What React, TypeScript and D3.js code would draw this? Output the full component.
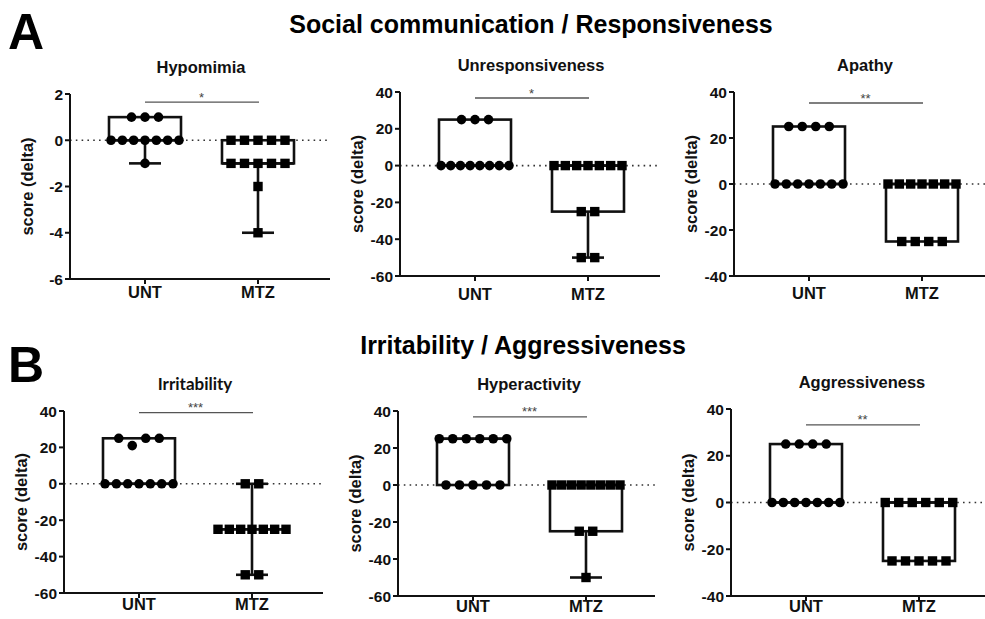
import React from "react";
import * as d3 from "d3";

// ---- data ----
const panelTitles = ["Hypomimia", "Unresponsiveness", "Apathy", "Irritability", "Hyperactivity", "Aggressiveness"];
const groups = ["UNT", "MTZ"];
const untScores = [
  [1, 1, 1, 0, 0, 0, 0, 0, 0, 0, -1],
  [25, 25, 25, 0, 0, 0, 0, 0, 0, 0, 0],
  [25, 25, 25, 25, 0, 0, 0, 0, 0, 0, 0],
  [25, 21, 25, 25, 0, 0, 0, 0, 0, 0, 0],
  [25, 25, 25, 25, 25, 25, 0, 0, 0, 0, 0],
  [25, 25, 25, 25, 0, 0, 0, 0, 0, 0, 0],
];
const mtzScores = [
  [0, 0, 0, 0, 0, -1, -1, -1, -1, -1, -2, -4],
  [0, 0, 0, 0, 0, 0, 0, -25, -25, -50, -50],
  [0, 0, 0, 0, 0, 0, 0, -25, -25, -25, -25],
  [0, 0, -25, -25, -25, -25, -25, -25, -25, -50, -50],
  [0, 0, 0, 0, 0, 0, 0, 0, -25, -25, -50],
  [0, 0, 0, 0, 0, 0, -25, -25, -25, -25, -25],
];
const yDomains = [[-6, 2], [-60, 40], [-40, 40], [-60, 40], [-60, 40], [-40, 40]];
const yTickSteps = [2, 20, 20, 20, 20, 20];
const sigLevels = [1.65, 36.7, 35.2, 39.1, 36.8, 33.2];
const sigStars = ["*", "*", "**", "***", "***", "**"];
const sectionTitles = ["Social communication / Responsiveness", "Irritability / Aggressiveness"];
const sectionLetters = ["A", "B"];

// ---- layout (pixel frames of each panel) ----
const frames = [
  { x0: 70, top: 94, bot: 279, right: 330, lab: 298 },
  { x0: 400, top: 92, bot: 276, right: 660, lab: 300 },
  { x0: 734, top: 92, bot: 276, right: 985, lab: 299 },
  { x0: 64, top: 411, bot: 593, right: 323, lab: 610 },
  { x0: 398, top: 411, bot: 596, right: 655, lab: 612 },
  { x0: 731, top: 409, bot: 596, right: 985, lab: 612 },
];

const FONT = "'Liberation Sans', Arial, sans-serif";
const BOX_W = 72;
const CAP_W = 32;

// GraphPad style quartiles, (n+1)p
const quart = (sorted: number[], p: number) => {
  const n = sorted.length;
  const pos = (n + 1) * p;
  const lo = Math.floor(pos);
  if (lo < 1) return sorted[0];
  if (lo >= n) return sorted[n - 1];
  return sorted[lo - 1] + (pos - lo) * (sorted[lo] - sorted[lo - 1]);
};

// spread points of (nearly) equal value sideways
const swarm = (vals: number[], y: (v: number) => number) => {
  const clusters: { py: number; idx: number[] }[] = [];
  vals.forEach((v, i) => {
    const py = y(v);
    const c = clusters.find((c) => Math.abs(c.py - py) < 8);
    if (c) c.idx.push(i);
    else clusters.push({ py, idx: [i] });
  });
  const dx = new Array(vals.length).fill(0);
  clusters.forEach((c) => {
    const n = c.idx.length;
    if (n < 2) return;
    const step = Math.min(13.5, 68 / (n - 1));
    c.idx.forEach((id, k) => {
      dx[id] = (k - (n - 1) / 2) * step;
    });
  });
  return dx;
};

const Panel = ({ i }: { i: number }) => {
  const f = frames[i];
  const [lo, hi] = yDomains[i];
  const y = d3.scaleLinear().domain([lo, hi]).range([f.bot, f.top]);
  const x = d3.scalePoint().domain(groups).range([f.x0 + 75, f.x0 + 188]);
  const ticks = d3.range(lo, hi + 0.001, yTickSteps[i]);
  const series = [untScores[i], mtzScores[i]];

  return (
    <g>
      <text x={f.x0 + 131} y={f.top - 21} textAnchor="middle" fontFamily={i === 3 ? "Lato, sans-serif" : FONT}
        fontWeight="bold" fontSize={i === 3 ? 17 : 16.5} fill="#111">
        {panelTitles[i]}
      </text>

      {/* zero reference */}
      <line x1={f.x0} x2={f.right} y1={y(0)} y2={y(0)} stroke="#333" strokeWidth={1.6} strokeDasharray="1.6 4.2" />

      {/* y axis */}
      <line x1={f.x0} x2={f.x0} y1={f.top} y2={f.bot} stroke="#111" strokeWidth={2} />
      {ticks.map((t) => (
        <g key={t}>
          <line x1={f.x0 - 5} x2={f.x0} y1={y(t)} y2={y(t)} stroke="#111" strokeWidth={2} />
          <text x={f.x0 - 7} y={y(t)} dy="0.36em" textAnchor="end" fontFamily={FONT} fontWeight="bold" fontSize={15.5} fill="#111">
            {t}
          </text>
        </g>
      ))}
      <text transform={`translate(${f.x0 - 37},${(f.top + f.bot) / 2}) rotate(-90)`} textAnchor="middle"
        fontFamily={FONT} fontWeight="bold" fontSize={16.5} fill="#111">
        score (delta)
      </text>

      {/* x axis */}
      <line x1={f.x0 - 1} x2={f.right} y1={f.bot} y2={f.bot} stroke="#111" strokeWidth={2} />
      {groups.map((g) => (
        <g key={g}>
          <line x1={x(g)} x2={x(g)} y1={f.bot} y2={f.bot + 5} stroke="#111" strokeWidth={2} />
          <text x={x(g)} y={f.lab} textAnchor="middle" fontFamily={FONT} fontWeight="bold" fontSize={16.5} fill="#111">
            {g}
          </text>
        </g>
      ))}

      {/* boxes */}
      {series.map((vals, gi) => {
        const s = [...vals].sort((a, b) => a - b);
        const q1 = quart(s, 0.25), med = quart(s, 0.5), q3 = quart(s, 0.75);
        const mn = s[0], mx = s[s.length - 1];
        const cx = x(groups[gi]) as number;
        const dx = swarm(vals, y);
        return (
          <g key={gi}>
            <rect x={cx - BOX_W / 2} y={y(q3)} width={BOX_W} height={Math.max(0.01, y(q1) - y(q3))}
              fill="none" stroke="#111" strokeWidth={2.6} />
            <line x1={cx - BOX_W / 2} x2={cx + BOX_W / 2} y1={y(med)} y2={y(med)} stroke="#111" strokeWidth={2.6} />
            {mx > q3 && (
              <>
                <line x1={cx} x2={cx} y1={y(q3)} y2={y(mx)} stroke="#111" strokeWidth={2.6} />
                <line x1={cx - CAP_W / 2} x2={cx + CAP_W / 2} y1={y(mx)} y2={y(mx)} stroke="#111" strokeWidth={2.6} />
              </>
            )}
            {mn < q1 && (
              <>
                <line x1={cx} x2={cx} y1={y(q1)} y2={y(mn)} stroke="#111" strokeWidth={2.6} />
                <line x1={cx - CAP_W / 2} x2={cx + CAP_W / 2} y1={y(mn)} y2={y(mn)} stroke="#111" strokeWidth={2.6} />
              </>
            )}
            {vals.map((v, k) =>
              gi === 0 ? (
                <circle key={k} cx={cx + dx[k]} cy={y(v)} r={4.8} fill="#000" />
              ) : (
                <rect key={k} x={cx + dx[k] - 4.7} y={y(v) - 4.7} width={9.4} height={9.4} fill="#000" />
              )
            )}
          </g>
        );
      })}

      {/* significance bar */}
      <line x1={x("UNT")} x2={(x("MTZ") as number) + 1} y1={y(sigLevels[i])} y2={y(sigLevels[i])} stroke="#555" strokeWidth={1.4} />
      <text x={((x("UNT") as number) + (x("MTZ") as number)) / 2} y={y(sigLevels[i]) - 0.5} textAnchor="middle"
        fontFamily={FONT} fontSize={13} fill="#444">
        {sigStars[i]}
      </text>
    </g>
  );
};

export default function App() {
  return (
    <svg width={985} height={619} style={{ position: "absolute", left: 0, top: 0, background: "#fff" }}>
      <rect width={985} height={619} fill="#fff" />
      {sectionLetters.map((l, k) => (
        <text key={l} x={8} y={k === 0 ? 48.5 : 382} fontFamily={FONT} fontWeight="bold" fontSize={50} fill="#000">
          {l}
        </text>
      ))}
      {sectionTitles.map((t, k) => (
        <text key={t} x={k === 0 ? 531 : 523} y={k === 0 ? 33 : 354} textAnchor="middle" fontFamily={FONT}
          fontWeight="bold" fontSize={25} fill="#000">
          {t}
        </text>
      ))}
      {panelTitles.map((_, i) => (
        <Panel key={i} i={i} />
      ))}
    </svg>
  );
}
